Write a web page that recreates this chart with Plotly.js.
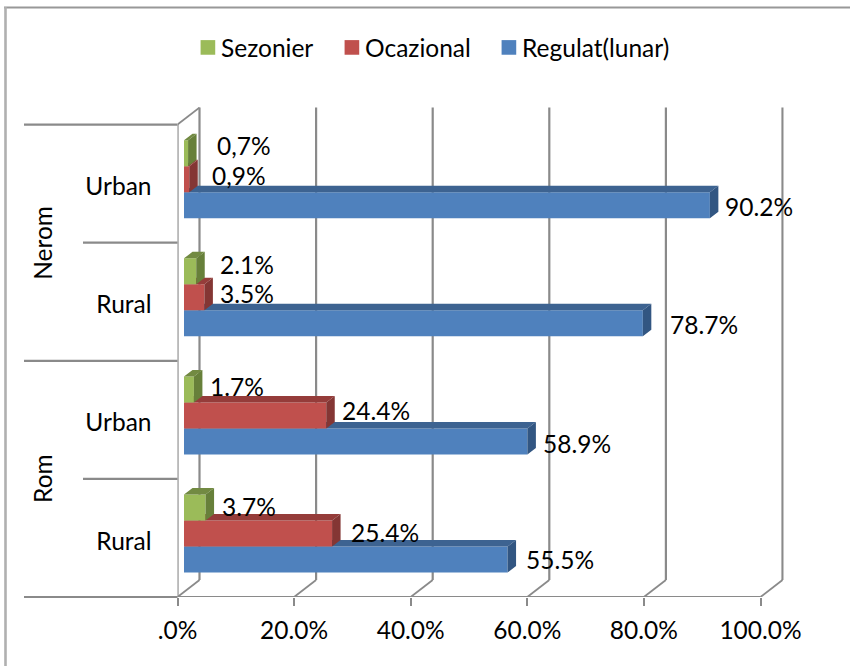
<!DOCTYPE html>
<html><head><meta charset="utf-8">
<script src="https://cdn.plot.ly/plotly-3.0.1.min.js"></script>
<style>html,body{margin:0;padding:0;background:#fff}</style></head>
<body><div id="chart" style="width:850px;height:666px"></div>
<script>
// ---- data ----
const categories = ["Rural", "Urban", "Rural", "Urban"];
const groups = ["Rom", "Nerom"];
const regulat = [55.5, 58.9, 78.7, 90.2];
const ocazional = [25.4, 24.4, 3.5, 0.9];
const sezonier = [3.7, 1.7, 2.1, 0.7];
const regulatLabels = ["55.5%", "58.9%", "78.7%", "90.2%"];
const ocazionalLabels = ["25.4%", "24.4%", "3.5%", "0,9%"];
const sezonierLabels = ["3.7%", "1.7%", "2.1%", "0,7%"];
const xTicks = [0, 20, 40, 60, 80, 100];
const xTickLabels = [".0%", "20.0%", "40.0%", "60.0%", "80.0%", "100.0%"];

// ---- geometry (px in the reference) ----
const W = 850, H = 666, L = 177.5, FLOOR = 597;
const PXX = 5.83, PXY = 118.1;
const dx = v => v / PXX, dy = v => v / PXY;
const XMAX = 104, YMAX = 4.15;
const GRID = "#8a8a8a";
const FONT = "Lato, 'Noto Sans', sans-serif";
const FS = 24.5;
const base = dx(6.5), barH = dy(26), gy = dy(4.4), depthX = dx(8.5), depthY = dy(6.5);
const wallX = dx(22), wallY = dy(17);
const catY = categories.map((_, i) => i + 0.5);

function faces(values, offset) {
  const top = {x: [], y: []}, side = {x: [], y: []};
  values.forEach((v, i) => {
    const yb = catY[i] + offset - barH / 2, yt = yb + barH, xe = base + v;
    top.x.push(base, xe, xe + depthX, base + depthX, base, null);
    top.y.push(yt, yt, yt + depthY, yt + depthY, yt, null);
    side.x.push(xe, xe + depthX, xe + depthX, xe, xe, null);
    side.y.push(yb, yb + depthY, yt + depthY, yt, yb, null);
  });
  return {top, side};
}
function series(name, values, offset, col, topCol, sideCol, ax) {
  const f = faces(values, offset);
  const poly = (d, c) => ({type: "scatter", mode: "lines", x: d.x, y: d.y, fill: "toself", fillcolor: c,
    line: {width: 0, color: c}, showlegend: false, hoverinfo: "skip", xaxis: ax[0], yaxis: ax[1]});
  return [
    {type: "bar", orientation: "h", name, x: values, base: values.map(() => base),
     y: catY.map(y => y + offset), width: barH, marker: {color: col, line: {width: 0}},
     xaxis: ax[0], yaxis: ax[1]},
    poly(f.top, topCol), poly(f.side, sideCol)
  ];
}
const off = {b: gy - barH, r: gy, g: gy + barH};
const traces = [
  ...series("Regulat(lunar)", regulat, off.b, "#4F81BD", "#3D6391", "#325682", ["x", "y"]),
  ...series("Ocazional", ocazional, off.r, "#C0504D", "#953C3A", "#843634", ["x2", "y2"]),
  ...series("Sezonier", sezonier, off.g, "#9BBB59", "#728A42", "#67803A", ["x3", "y3"]),
];

// ---- walls, floor, category dividers ----
const shapes = [];
const ln = (xref, yref, x0, y0, x1, y1, width, color) => shapes.push({type: "line", xref, yref, x0, y0, x1, y1,
  layer: "below", line: {color: color || GRID, width: width || 2.2}});
xTicks.forEach(t => {
  ln("x", "y", t + wallX, wallY, t + wallX, 4 + wallY);
  ln("x", "y", t, 0, t + wallX, wallY, 1.8);
});
ln("x", "y", 0, 4, wallX, 4 + wallY, 1.8);
ln("x", "y", 0, 0, 0, 4);
ln("x", "y", 0, 0, 100, 0);
// multi-level category lines
[0, 2, 4].forEach(c => { const y = (FLOOR - c * PXY); ln("paper", "paper", 24 / W, 1 - y / H, L / W, 1 - y / H); });
[1, 3].forEach(c => { const y = (FLOOR - c * PXY); ln("paper", "paper", 83 / W, 1 - y / H, L / W, 1 - y / H); });
// page edges visible in the reference: top and left only
ln("paper", "paper", 4 / W, 1 - 7.5 / H, 1, 1 - 7.5 / H, 2, "#989898");
ln("paper", "paper", 5.5 / W, 1 - 7 / H, 5.5 / W, 0, 2.6, "#b0b0b0");

// ---- data labels ----
const annotations = [];
function labels(texts, values, offset, shifts) {
  texts.forEach((t, i) => annotations.push({text: t, x: base + values[i], y: catY[i] + offset, xref: "x3", yref: "y3",
    showarrow: false, xanchor: "left", yanchor: "middle", xshift: shifts[i][0], yshift: shifts[i][1],
    font: {family: FONT, size: FS, color: "#000"}}));
}
labels(regulatLabels, regulat, off.b, [[16, 0], [14, -2], [25, -1], [13, -1]]);
labels(ocazionalLabels, ocazional, off.r, [[17, 1], [14, 5], [14, 4], [21, 4]]);
labels(sezonierLabels, sezonier, off.g, [[14, 1], [14, 3], [22, 7], [27, 8]]);
groups.forEach((g, i) => annotations.push({text: g, xref: "paper", yref: "y", x: 43 / W, y: i * 2 + 1, showarrow: false,
  textangle: -90, xanchor: "center", yanchor: "middle", font: {family: FONT, size: FS, color: "#000"}}));

const xdom = [L / W, (L + XMAX * PXX) / W];
const ydom = [1 - FLOOR / H, 1 - (FLOOR - YMAX * PXY) / H];
const hid = (m) => ({overlaying: m, range: m[0] === "x" ? [0, XMAX] : [0, YMAX], domain: m[0] === "x" ? xdom : ydom,
  visible: false, fixedrange: true});
const layout = {
  width: W, height: H, margin: {l: 0, r: 0, t: 0, b: 0}, paper_bgcolor: "#fff", plot_bgcolor: "rgba(0,0,0,0)",
  barmode: "overlay", font: {family: FONT, size: FS, color: "#000"},
  xaxis: {range: [0, XMAX], domain: xdom, tickmode: "array", tickvals: xTicks, ticktext: xTickLabels, showgrid: false,
    zeroline: false, showline: false, ticks: "outside", ticklen: 8, tickwidth: 2, tickcolor: GRID,
    ticklabelstandoff: 4, tickfont: {family: FONT, size: FS, color: "#000"}, fixedrange: true},
  yaxis: {range: [0, YMAX], domain: ydom, tickmode: "array", tickvals: catY.map(y => y - dy(3)), ticktext: categories, showgrid: false,
    zeroline: false, showline: false, ticks: "", ticklabelstandoff: 25, tickfont: {family: FONT, size: FS, color: "#000"}, fixedrange: true},
  xaxis2: hid("x"), yaxis2: hid("y"), xaxis3: hid("x"), yaxis3: hid("y"),
  shapes, annotations,
  legend: {orientation: "h", traceorder: "reversed", x: 180 / W, xanchor: "left", y: 1 - 25 / H, yanchor: "top",
    bgcolor: "rgba(0,0,0,0)", font: {family: FONT, size: FS, color: "#000"}, itemwidth: 30, entrywidth: 160, entrywidthmode: "pixels",
    itemclick: false, itemdoubleclick: false},
  showlegend: true
};
const legendSteps = [1, 145, 302];
Plotly.newPlot("chart", traces, layout, {displayModeBar: false}).then(gd => {
  // tighten the legend: entries at the reference spacing, larger swatches closer to their text
  gd.querySelectorAll(".legend .traces").forEach((g, i) => {
    const yy = (g.getAttribute("transform") || "").match(/[ ,]([-\d.]+)\)/);
    g.setAttribute("transform", `translate(${legendSteps[i]},${yy ? yy[1] : 0})`);
    const sym = g.querySelector(".legendsymbols");
    if (sym) sym.setAttribute("transform", "translate(2.5,0) scale(1.22)");
  });
});
</script></body></html>
